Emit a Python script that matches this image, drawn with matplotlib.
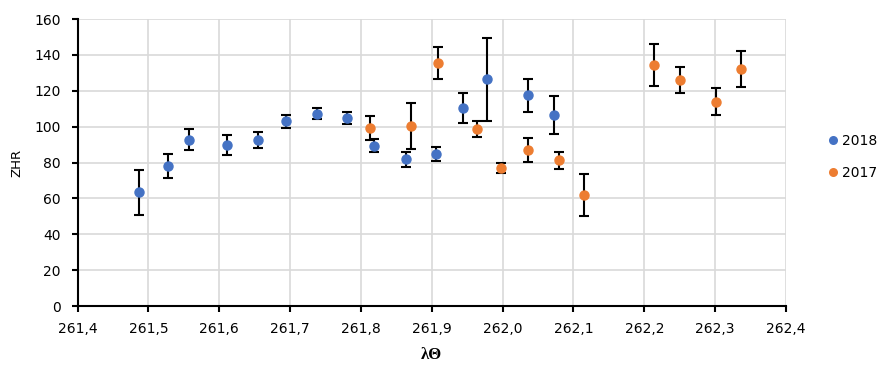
import matplotlib
matplotlib.use("Agg")
import matplotlib.pyplot as plt
from matplotlib.lines import Line2D
from matplotlib.ticker import FuncFormatter, MultipleLocator

# ZHR measurements, 2018 series
lon_2018 = [261.486, 261.527, 261.557, 261.611, 261.654, 261.694, 261.738, 261.780,
            261.819, 261.864, 261.906, 261.944, 261.978, 262.036, 262.073]
zhr_2018 = [63.5, 77.8, 92.7, 89.6, 92.5, 103.0, 107.3, 104.6,
            89.4, 81.7, 84.7, 110.4, 126.3, 117.5, 106.5]
err_2018 = [12.5, 6.7, 5.9, 5.5, 4.5, 3.6, 3.3, 3.4,
            3.8, 4.2, 3.9, 8.2, 23.0, 9.2, 10.7]

# ZHR measurements, 2017 series
lon_2017 = [261.813, 261.870, 261.909, 261.964, 261.998, 262.036, 262.080, 262.115,
            262.214, 262.250, 262.301, 262.337]
zhr_2017 = [99.2, 100.4, 135.6, 98.7, 76.9, 87.0, 81.2, 62.0,
            134.3, 125.9, 114.0, 132.3]
err_2017 = [6.7, 12.6, 8.8, 4.3, 2.9, 6.8, 4.9, 11.6,
            11.8, 7.3, 7.5, 10.0]

BLUE = "#4472C4"
ORANGE = "#ED7D31"

fig = plt.figure(figsize=(8.8, 3.67), dpi=100)
ax = fig.add_axes([0.0882, 0.1662, 0.805, 0.782])

for xs, ys, es, c in ((lon_2018, zhr_2018, err_2018, BLUE),
                      (lon_2017, zhr_2017, err_2017, ORANGE)):
    ax.errorbar(xs, ys, yerr=es, fmt="o", markersize=6.5, color=c, markeredgecolor=c,
                ecolor="black", elinewidth=1.5, capsize=3.6, capthick=1.5, zorder=3)

ax.set_xlim(261.4, 262.4)
ax.set_ylim(0, 160)
ax.xaxis.set_major_locator(MultipleLocator(0.1))
ax.yaxis.set_major_locator(MultipleLocator(20))
ax.xaxis.set_major_formatter(FuncFormatter(lambda v, p: f"{v:.1f}".replace(".", ",")))
ax.yaxis.set_major_formatter(FuncFormatter(lambda v, p: f"{v:.0f}"))

ax.grid(True, color="#D9D9D9", linewidth=1.2, zorder=0)
ax.set_axisbelow(True)
for s in ("top", "right"):
    ax.spines[s].set_visible(False)
for s in ("left", "bottom"):
    ax.spines[s].set_linewidth(1.5)
    ax.spines[s].set_color("black")
    ax.spines[s].set_zorder(2.5)
ax.tick_params(direction="out", length=4.3, width=1.5, labelsize=10)
ax.tick_params(axis="x", pad=7)
ax.tick_params(axis="y", pad=8)

ax.set_ylabel("ZHR", fontsize=9.5, labelpad=8)
ax.set_xlabel("λΘ", fontsize=12, fontweight="bold", family="Liberation Serif", labelpad=8)

handles = [Line2D([], [], marker="o", linestyle="none", markersize=6.5,
                  markeredgewidth=0, color=c) for c in (BLUE, ORANGE)]
ax.legend(handles, ["2018", "2017"], loc="upper left", bbox_to_anchor=(0.933, 0.655),
          bbox_transform=fig.transFigure, frameon=False, fontsize=10,
          handlelength=0.7, handletextpad=0.3, labelspacing=1.35, borderpad=0)

fig.savefig("out.png", dpi=100)
